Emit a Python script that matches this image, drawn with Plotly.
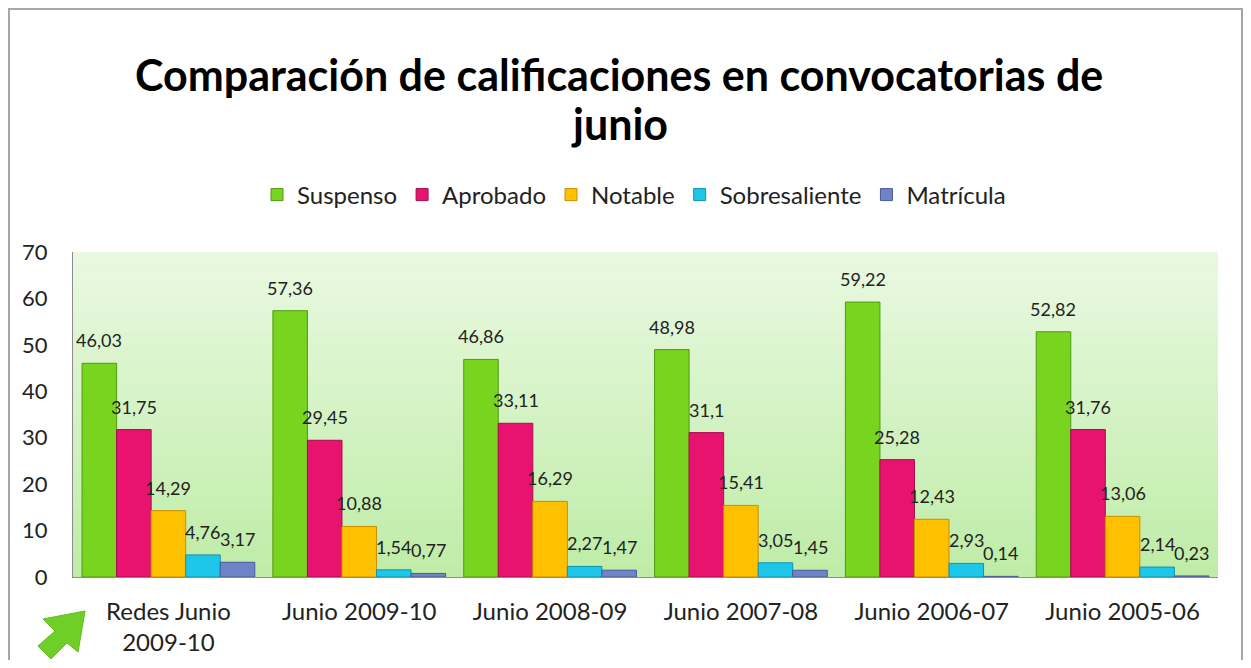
import plotly.graph_objects as go

# data
categories = ["Redes Junio<br>2009-10", "Junio 2009-10", "Junio 2008-09",
              "Junio 2007-08", "Junio 2006-07", "Junio 2005-06"]
suspenso = [46.03, 57.36, 46.86, 48.98, 59.22, 52.82]
aprobado = [31.75, 29.45, 33.11, 31.1, 25.28, 31.76]
notable = [14.29, 10.88, 16.29, 15.41, 12.43, 13.06]
sobresaliente = [4.76, 1.54, 2.27, 3.05, 2.93, 2.14]
matricula = [3.17, 0.77, 1.47, 1.45, 0.14, 0.23]
y_ticks = [0, 10, 20, 30, 40, 50, 60, 70]
title_lines = ["Comparación de calificaciones en convocatorias de", "junio"]

series = [
    ("Suspenso", suspenso, "#78d41f", "#4f9a12"),
    ("Aprobado", aprobado, "#e8136f", "#a80c4f"),
    ("Notable", notable, "#ffc000", "#c98f00"),
    ("Sobresaliente", sobresaliente, "#1ec6ea", "#0f93b0"),
    ("Matrícula", matricula, "#6f83c8", "#4a5a98"),
]

# the page body adds an 8px margin, so the figure starts at (8, 8) on screen
OFF = 8
W, H = 1251 - 2 * OFF, 668 - 2 * OFF
# plot area in screen pixels
L, R, T, B = 73, 1218, 252, 577
BARGAP = 0.095


def px2paper(px, py):
    return (px - L) / (R - L), (B - py) / (B - T)


fig = go.Figure()
for name, vals, col, edge in series:
    fig.add_trace(go.Bar(
        name=name, x=categories, y=vals,
        marker=dict(color=col, line=dict(color=edge, width=1)),
    ))

# value labels sit ~23px above each bar top
bar_px = (R - L) / len(categories) * (1 - BARGAP) / len(series)
annotations = []
for i, (name, vals, col, edge) in enumerate(series):
    for cat, v in zip(categories, vals):
        annotations.append(dict(
            x=cat, y=v, xref="x", yref="y",
            xshift=(i - (len(series) - 1) / 2) * bar_px, yshift=23,
            text=str(v).replace(".", ","), showarrow=False,
            xanchor="center", yanchor="middle",
            font=dict(family="Lato", size=18, color="#222222"),
        ))

shapes = []
# light green gradient behind the bars
n = 24
top = (234, 249, 226)
bot = (190, 236, 166)
for i in range(n):
    f = (i + 0.5) / n
    c = tuple(int(round(top[k] + (bot[k] - top[k]) * f)) for k in range(3))
    shapes.append(dict(type="rect", xref="x domain", yref="y domain",
                       x0=0, x1=1, y0=1 - (i + 1) / n, y1=1 - i / n,
                       fillcolor="rgb(%d,%d,%d)" % c, line=dict(width=0),
                       layer="below"))

# outer frame
fx0, fy0 = px2paper(OFF + 1, OFF + 1)
fx1, fy1 = px2paper(OFF + W - 1, 700)
shapes.append(dict(type="rect", xref="paper", yref="paper",
                   x0=fx0, y0=fy1, x1=fx1, y1=fy0,
                   line=dict(color="#a6a6a6", width=2), fillcolor="rgba(0,0,0,0)"))

# green arrow in the corner
arrow_px = [(85, 611), (43, 619), (55, 631), (38, 646), (51, 659), (67, 643), (78, 652)]
pts = [px2paper(x, y) for x, y in arrow_px]
path = "M " + " L ".join("%.4f,%.4f" % p for p in pts) + " Z"
shapes.append(dict(type="path", xref="paper", yref="paper", path=path,
                   fillcolor="#6fcf26", line=dict(color="#5fbd1e", width=1)))

# title as two centred lines
for txt, cy in zip(title_lines, [75, 123]):
    ax, ay = px2paper(619, cy)
    annotations.append(dict(
        text="<b>%s</b>" % txt, xref="paper", yref="paper", x=ax, y=ay,
        xanchor="center", yanchor="middle", showarrow=False,
        font=dict(family="Lato", size=43, color="black"),
    ))

fig.update_layout(
    width=W, height=H,
    margin=dict(l=L - OFF, r=OFF + W - R, t=T - OFF, b=OFF + H - B),
    paper_bgcolor="white",
    plot_bgcolor="#d4f2c4",
    barmode="group",
    bargap=BARGAP,
    bargroupgap=0,
    font=dict(family="Lato", color="#222222"),
    legend=dict(
        orientation="h", x=px2paper(634, 0)[0], xanchor="center",
        y=(B - 195) / (B - T), yanchor="middle",
        font=dict(family="Lato", size=24, color="#222222"),
        itemwidth=30, traceorder="normal",
    ),
    shapes=shapes,
    annotations=annotations,
    showlegend=True,
)
fig.update_yaxes(
    range=[0, 70], tickvals=y_ticks, showgrid=False, zeroline=False,
    showline=True, linecolor="#8c8c8c", linewidth=1, automargin=False,
    tickfont=dict(family="Lato", size=22, color="#222222"), ticks="",
    ticklabelstandoff=20,
)
fig.update_xaxes(
    showline=True, linecolor="#8c8c8c", linewidth=1, ticks="", automargin=False,
    tickfont=dict(family="Lato", size=24, color="#222222"),
    ticklabelstandoff=13,
)

fig.write_html("out.html")
